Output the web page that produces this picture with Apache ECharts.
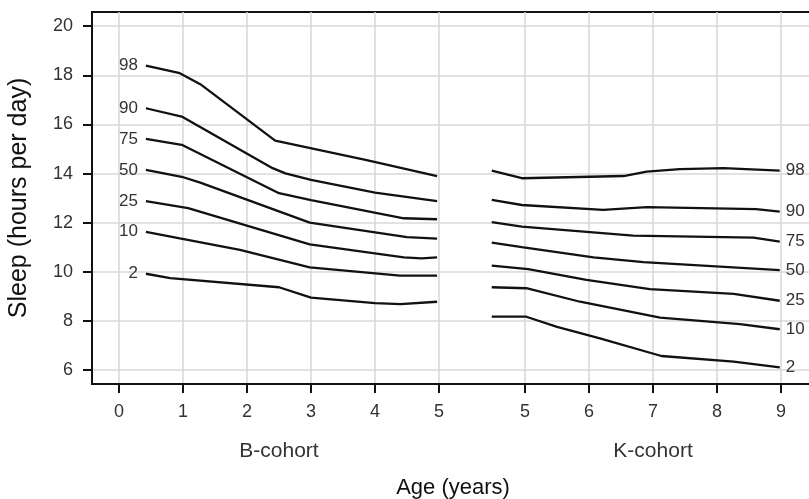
<!DOCTYPE html>
<html>
<head>
<meta charset="utf-8">
<script src="https://cdn.jsdelivr.net/npm/echarts@6/dist/echarts.min.js"></script>
<style>
html,body{margin:0;padding:0;background:#fff;}
#c{width:809px;height:499px;}
</style>
</head>
<body>
<div id="c"></div>
<script>
// ---- data ----
const percentiles = ['98', '90', '75', '50', '25', '10', '2'];

const bAges = [
  [0.42, 0.95, 1.27, 2.44, 3.87, 4.97],
  [0.42, 0.98, 2.40, 2.60, 3.00, 4.00, 4.97],
  [0.42, 0.98, 2.50, 3.00, 4.45, 4.97],
  [0.42, 0.98, 1.27, 2.98, 4.50, 4.97],
  [0.42, 1.08, 2.98, 4.45, 4.73, 4.97],
  [0.42, 0.95, 1.89, 2.98, 4.39, 4.97],
  [0.42, 0.80, 2.50, 3.00, 4.00, 4.40, 4.97]
];
const bSleep = [
  [18.40, 18.09, 17.64, 15.34, 14.55, 13.90],
  [16.66, 16.32, 14.22, 14.01, 13.74, 13.22, 12.88],
  [15.41, 15.17, 13.20, 12.92, 12.18, 12.14],
  [14.15, 13.87, 13.63, 12.00, 11.41, 11.35],
  [12.88, 12.59, 11.12, 10.59, 10.55, 10.59],
  [11.63, 11.36, 10.89, 10.18, 9.84, 9.84],
  [9.92, 9.74, 9.37, 8.95, 8.72, 8.68, 8.78]
];

const kAges = [
  [4.48, 4.95, 6.54, 6.90, 7.42, 8.10, 8.98],
  [4.48, 4.95, 6.22, 6.90, 8.61, 8.98],
  [4.48, 4.95, 6.69, 8.57, 8.98],
  [4.48, 4.95, 6.07, 6.85, 8.98],
  [4.48, 5.05, 5.96, 6.95, 8.26, 8.98],
  [4.48, 5.02, 5.86, 7.11, 8.36, 8.98],
  [4.48, 5.02, 5.50, 6.17, 7.13, 8.26, 8.98]
];
const kSleep = [
  [14.12, 13.81, 13.90, 14.08, 14.18, 14.22, 14.12],
  [12.93, 12.72, 12.52, 12.63, 12.55, 12.45],
  [12.02, 11.84, 11.47, 11.39, 11.23],
  [11.19, 11.00, 10.59, 10.39, 10.07],
  [10.25, 10.11, 9.67, 9.29, 9.10, 8.82],
  [9.37, 9.33, 8.78, 8.13, 7.87, 7.66],
  [8.17, 8.17, 7.76, 7.29, 6.57, 6.34, 6.11]
];

const bTicks = [0, 1, 2, 3, 4, 5];
const kTicks = [5, 6, 7, 8, 9];
const yTicks = [6, 8, 10, 12, 14, 16, 18, 20];
const cohortNames = ['B-cohort', 'K-cohort'];

// ---- layout of the broken age axis ----
const K_SHIFT = 1.344; // K-cohort age 5 sits this far to the right of B-cohort age 5
const xPositions = bTicks.concat(kTicks.map(v => +(v + K_SHIFT).toFixed(3)));

const FONT = '"Liberation Sans", Arial, Helvetica, sans-serif';
const LINE_COLOR = '#111';

const series = [];
percentiles.forEach((p, i) => {
  series.push({
    type: 'line',
    name: 'B-' + p,
    symbol: 'circle',
    symbolSize: 0,
    showSymbol: true,
    silent: true,
    lineStyle: { color: LINE_COLOR, width: 2.3 },
    itemStyle: { color: LINE_COLOR },
    data: bAges[i].map((a, j) => {
      const item = { value: [a, bSleep[i][j]] };
      if (j === 0) {
        item.label = {
          show: true, position: 'left', distance: 8, formatter: p,
          color: '#333', fontSize: 17, fontFamily: FONT
        };
      }
      return item;
    })
  });
  series.push({
    type: 'line',
    name: 'K-' + p,
    symbol: 'none',
    silent: true,
    lineStyle: { color: LINE_COLOR, width: 2.3 },
    itemStyle: { color: LINE_COLOR },
    endLabel: {
      show: true, formatter: p, distance: 6,
      color: '#333', fontSize: 17, fontFamily: FONT
    },
    data: kAges[i].map((a, j) => [a + K_SHIFT, kSleep[i][j]])
  });
});

const chart = echarts.init(document.getElementById('c'), null, { renderer: 'canvas' });
const option = {
  animation: false,
  backgroundColor: '#fff',
  grid: {
    left: 92, width: 722, top: 12, bottom: 115,
    containLabel: false,
    outerBoundsMode: 'none',
    show: true, borderColor: '#111', borderWidth: 2, backgroundColor: 'transparent'
  },
  xAxis: {
    type: 'value',
    min: -0.4219,
    max: 10.859,
    name: 'Age (years)',
    nameLocation: 'middle',
    nameGap: 93,
    nameTextStyle: { color: '#111', fontSize: 22, fontFamily: FONT },
    axisLine: { show: true, onZero: false, lineStyle: { color: '#111', width: 2 } },
    axisTick: { show: true, length: 9, customValues: xPositions, lineStyle: { color: '#111', width: 2 } },
    axisLabel: {
      customValues: xPositions,
      margin: 19, color: '#333', fontSize: 18, fontFamily: FONT,
      formatter: v => (v <= 5.01 ? String(Math.round(v)) : String(Math.round(v - K_SHIFT)))
    },
    splitLine: { show: true, lineStyle: { color: '#d8d8d8', width: 1.6 } }
  },
  yAxis: {
    type: 'value',
    min: 5.43,
    max: 20.58,
    name: 'Sleep (hours per day)',
    nameLocation: 'middle',
    nameGap: 60,
    nameTextStyle: { color: '#111', fontSize: 25, fontFamily: FONT },
    axisLine: { show: true, onZero: false, lineStyle: { color: '#111', width: 2 } },
    axisTick: { show: true, length: 9, customValues: yTicks, lineStyle: { color: '#111', width: 2 } },
    axisLabel: {
      customValues: yTicks,
      margin: 19, color: '#333', fontSize: 18, fontFamily: FONT
    },
    splitLine: { show: true, lineStyle: { color: '#d8d8d8', width: 1.6 } }
  },
  series: series
};
chart.setOption(option);

// cohort captions centred under each half of the age axis
const bMid = chart.convertToPixel({ gridIndex: 0 }, [(bTicks[0] + bTicks[bTicks.length - 1]) / 2, 6]);
const kMid = chart.convertToPixel({ gridIndex: 0 }, [(kTicks[0] + kTicks[kTicks.length - 1]) / 2 + K_SHIFT, 6]);
chart.setOption({
  graphic: [
    { type: 'text', x: bMid[0], y: 451, style: { text: cohortNames[0], fill: '#333', fontSize: 21, fontFamily: FONT, align: 'center', verticalAlign: 'middle' } },
    { type: 'text', x: kMid[0], y: 451, style: { text: cohortNames[1], fill: '#333', fontSize: 21, fontFamily: FONT, align: 'center', verticalAlign: 'middle' } }
  ]
});
</script>
</body>
</html>
